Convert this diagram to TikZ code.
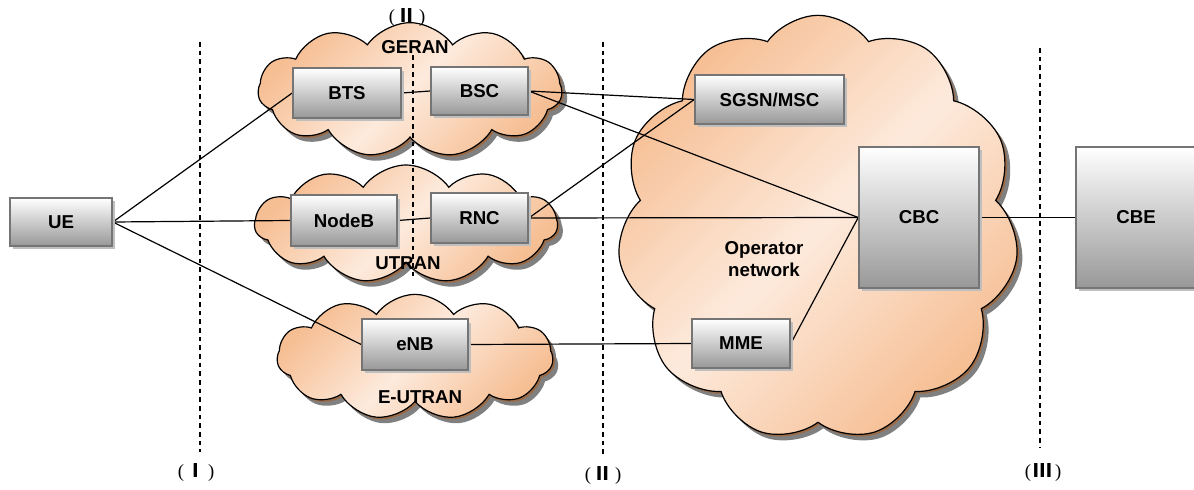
\documentclass[tikz,border=0pt]{standalone}
\usepackage{fontspec}
\setmainfont{Liberation Sans}
\newfontfamily\cjk{Noto Sans CJK SC}
\newfontfamily\parenfont{Liberation Serif}
\usetikzlibrary{shapes.symbols,shadows}
\definecolor{peachdark}{HTML}{F6BE93}
\definecolor{peachlight}{HTML}{FDEADC}
\definecolor{boxborder}{HTML}{757575}
\definecolor{boxbottom}{HTML}{989898}
\definecolor{cloudbrown}{HTML}{9C6A44}
\pgfdeclarelayer{bg}
\pgfdeclarelayer{mid}
\pgfsetlayers{bg,mid,main}
\newcommand{\romlbl}[1]{{\parenfont(}\hspace{2pt}{\cjk\bfseries #1}\hspace{2pt}{\parenfont)}}
\tikzset{
  box/.style={draw=boxborder, line width=1.2pt, top color=white, bottom color=boxbottom,
    inner sep=0pt, font=\bfseries\fontsize{14}{16}\selectfont,
    drop shadow={shadow xshift=2.5pt, shadow yshift=-2.5pt, fill=black!25, opacity=1}},
  cloudshape/.style={cloud, cloud puffs=11, cloud puff arc=110, cloud ignores aspect,
    draw=black, line width=0.9pt,
    drop shadow={shadow xshift=4pt, shadow yshift=-4.5pt, fill=black!50, opacity=1},
    drop shadow={shadow xshift=1.5pt, shadow yshift=-1.5pt, fill=cloudbrown, opacity=1},
    left color=peachdark, right color=peachdark, middle color=peachlight, shading angle=45},
  conn/.style={line width=0.9pt},
  sepline/.style={line width=0.8pt, dash pattern=on 3.5pt off 3pt},
  lbl/.style={font=\bfseries\fontsize{14}{16}\selectfont, inner sep=0pt},
  roman/.style={font=\fontsize{14}{15}\selectfont, inner sep=0pt}
}
\begin{document}
\begin{tikzpicture}[x=0.75pt,y=-0.75pt]
\useasboundingbox (0,0) rectangle (1194,489);
\begin{pgfonlayer}{bg}
  \node[cloudshape, minimum width=228pt, minimum height=101pt] (geran) at (410,90) {};
  \node[cloudshape, minimum width=227pt, minimum height=88.5pt] (utran) at (406,224) {};
  \node[cloudshape, minimum width=207pt, minimum height=94pt] (eutran) at (415,357) {};
  \node[cloudshape, cloud puffs=11, minimum width=301pt, minimum height=319pt] (opnet) at (818,228) {};
\end{pgfonlayer}

% boxes
\node[box, minimum width=76.5pt, minimum height=36pt] (ue) at (61,222) {UE};
\node[box, minimum width=81pt, minimum height=37.5pt] (bts) at (347,93) {BTS};
\node[box, minimum width=72.75pt, minimum height=36pt] (bsc) at (479.5,91) {BSC};
\node[box, minimum width=79.5pt, minimum height=38pt] (nodeb) at (344,220.5) {NodeB};
\node[box, minimum width=72.75pt, minimum height=37.5pt] (rnc) at (479.5,218) {RNC};
\node[box, minimum width=79.5pt, minimum height=38pt] (enb) at (415,344.5) {eNB};
\node[box, minimum width=111.75pt, minimum height=36.75pt] (sgsn) at (769.5,99.5) {SGSN/MSC};
\node[box, minimum width=73.5pt, minimum height=36.75pt] (mme) at (741,343.5) {MME};
\node[box, minimum width=90pt, minimum height=105.75pt] (cbc) at (919,217.5) {CBC};
\node[box, minimum width=90pt, minimum height=105.75pt] (cbe) at (1136,217.5) {CBE};

% cloud labels
\node[lbl] (lgeran) at (415,47) {GERAN};
\node[lbl] (lutran) at (408,263) {UTRAN};
\node[lbl] (leutran) at (420,397) {E-UTRAN};
\node[lbl, align=center] (lop) at (764,259) {Operator\\network};

% roman labels
\node[roman] (r1) at (196,472) {\romlbl{Ⅰ}};
\node[roman] (r2top) at (407,17) {\romlbl{Ⅱ}};
\node[roman] (r2) at (603,475) {\romlbl{Ⅱ}};
\node[roman] (r3) at (1043,472) {\romlbl{Ⅲ}};

\begin{pgfonlayer}{mid}
  % separators
  \draw[sepline] (200,42) -- (200,452);
  \draw[sepline] (413,55) -- (413,277);
  \draw[sepline] (603,42) -- (603,455);
  \draw[sepline] (1040,48) -- (1040,447);
  % connectors
  \draw[conn] (ue.east) -- (bts.west);
  \draw[conn] (ue.east) -- (nodeb.west);
  \draw[conn] (ue.east) -- (enb.west);
  \draw[conn] (bts.east) -- (bsc.west);
  \draw[conn] (nodeb.east) -- (rnc.west);
  \draw[conn] (bsc.east) -- (sgsn.west);
  \draw[conn] (bsc.east) -- (cbc.west);
  \draw[conn] (rnc.east) -- (sgsn.west);
  \draw[conn] (rnc.east) -- (cbc.west);
  \draw[conn] (enb.east) -- (mme.west);
  \draw[conn] (mme.east) -- (cbc.west);
  \draw[conn] (cbc.east) -- (cbe.west);
\end{pgfonlayer}
\end{tikzpicture}
\end{document}
